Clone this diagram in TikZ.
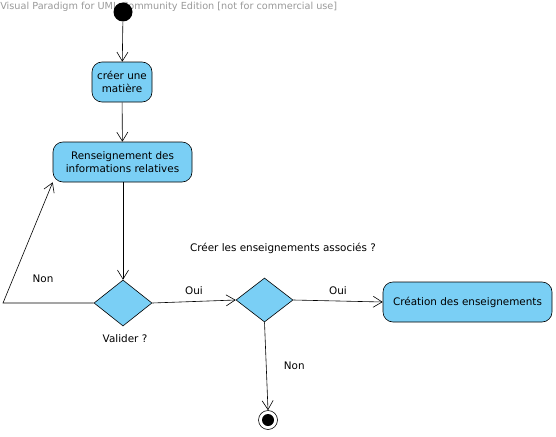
\documentclass[tikz,border=0pt]{standalone}
\usepackage{fontspec}
\setmainfont{DejaVu Sans}
\usetikzlibrary{positioning,arrows.meta,shapes.geometric}
\definecolor{actblue}{RGB}{122,207,245}

\begin{document}
\begin{tikzpicture}[x=1pt,y=-1pt,line width=0.6pt,
        action/.style={draw, fill=actblue, rounded corners=10pt, align=center, font=\fontsize{10.4}{12.5}\selectfont, inner sep=0pt},
        decision/.style={draw, fill=actblue, diamond, minimum width=58pt, minimum height=46pt, inner sep=0pt},
        lbl/.style={font=\fontsize{10.4}{12.5}\selectfont},
        flow/.style={->, >={Straight Barb[length=9pt,width=11pt]}}]
        \useasboundingbox (0,0) rectangle (556,436);
        \node[anchor=west, text=gray!80, font=\fontsize{9.7}{11}\selectfont, inner sep=0pt] (mark) at (0,7) {Visual Paradigm for UML Community Edition [not for commercial use]};

        \node[circle, fill=black, minimum size=19pt, inner sep=0pt] (start) at (123,12) {};
        \node[action, minimum width=60pt, minimum height=40pt] (matiere) at (122,82) {créer une\\matière};
        \node[action, minimum width=139pt, minimum height=40pt] (infos) at (122.5,162) {Renseignement des\\informations relatives};
        \node[decision] (valider) at (123,303) {};
        \node[lbl] (qvalider) at (125,339) {Valider ?};
        \node[decision, minimum width=57pt, minimum height=44pt] (assoc) at (264.5,300) {};
        \node[lbl] (qassoc) at (283,248) {Créer les enseignements associés ?};
        \node[action, minimum width=169pt, minimum height=40pt] (creation) at (467.5,302) {Création des enseignements};
        \node[circle, draw, minimum size=19pt, inner sep=0pt] (fin) at (268,420) {};
        \node[circle, fill=black, minimum size=12pt, inner sep=0pt] (finc) at (fin) {};
        \coordinate (retour) at (3,303);

        \draw[flow] (start) -- (matiere);
        \draw[flow] (matiere) -- (infos);
        \draw[flow] (infos.south -| valider) -- (valider.north);
        \draw[flow] (valider.west) -- (retour) -- (infos.south west);
        \node[lbl] (non1) at (43,279) {Non};
        \draw[flow] (valider.east) -- (assoc.west) node[midway, lbl, above=3pt] {Oui};
        \draw[flow] (assoc.east) -- (creation.west) node[midway, lbl, above=3pt] {Oui};
        \draw[flow] (assoc.south) -- (fin.north) node[midway, lbl, right=14pt] {Non};
    \end{tikzpicture}
\end{document}
